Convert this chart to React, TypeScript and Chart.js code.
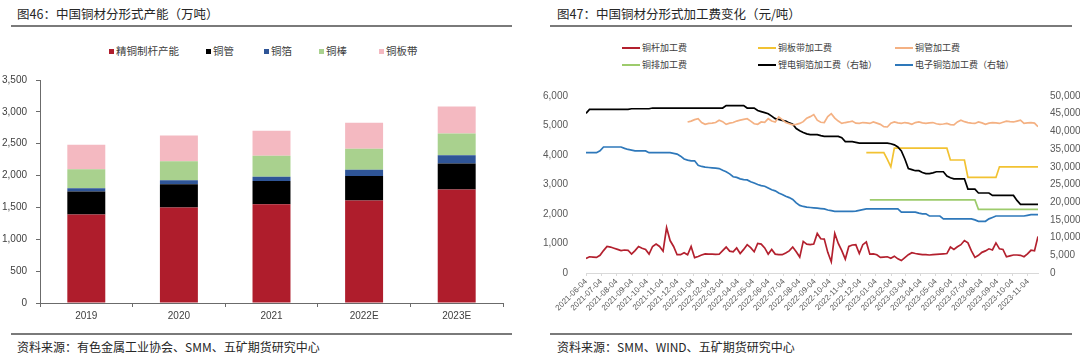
import React, { useEffect, useRef } from 'react';
import { Chart, registerables } from 'chart.js';

Chart.register(...registerables);

// ---------- Figure 46: capacity by product (10k t) ----------
const years = ['2019', '2020', '2021', '2022E', '2023E'];
const rodCapacity = [1390, 1500, 1550, 1610, 1780];
const tubeCapacity = [360, 365, 365, 385, 410];
const foilCapacity = [50, 60, 65, 95, 130];
const barCapacity = [300, 300, 330, 330, 340];
const stripCapacity = [385, 405, 395, 410, 425];
const capacityNames = ['精铜制杆产能', '铜管', '铜箔', '铜棒', '铜板带'];
const capacityColors = ['#AF1D2C', '#000000', '#2F5597', '#A9D18E', '#F4B9C1'];
const capacityTicks = [0, 500, 1000, 1500, 2000, 2500, 3000, 3500];

// ---------- Figure 47: processing fees (yuan/t), weekly from weekStart ----------
const weekStart = '2021-06-04';
const monthTickLabels = [
  '2021-06-04', '2021-07-04', '2021-08-04', '2021-09-04', '2021-10-04', '2021-11-04',
  '2021-12-04', '2022-01-04', '2022-02-04', '2022-03-04', '2022-04-04', '2022-05-04',
  '2022-06-04', '2022-07-04', '2022-08-04', '2022-09-04', '2022-10-04', '2022-11-04',
  '2022-12-04', '2023-01-04', '2023-02-04', '2023-03-04', '2023-04-04', '2023-05-04',
  '2023-06-04', '2023-07-04', '2023-08-04', '2023-09-04', '2023-10-04', '2023-11-04',
];
const leftTicks = [0, 1000, 2000, 3000, 4000, 5000, 6000];
const rightTicks = [0, 5000, 10000, 15000, 20000, 25000, 30000, 35000, 40000, 45000, 50000];

// 铜杆加工费 (weeks 0..129)
const rodFee = [
  490, 550, 540, 530, 600, 760, 900, 880, 840, 800,
  760, 780, 770, 640, 760, 900, 840, 800, 640, 900,
  980, 900, 740, 1540, 1100, 900, 620, 620, 690, 620,
  900, 520, 560, 610, 650, 640, 640, 630, 635, 760,
  880, 740, 720, 850, 660, 800, 960, 860, 720, 1000,
  980, 850, 640, 800, 640, 620, 620, 680, 750, 880,
  720, 540, 1070, 980, 960, 980, 1340, 1160, 1150, 700,
  380, 1340, 1000, 760, 470, 900, 950, 960, 660, 960,
  1050, 640, 650, 620, 530, 540, 550, 500, 570, 480,
  420, 520, 620, 690, 660, 640, 620, 620, 610, 620,
  630, 640, 650, 660, 880, 800, 890, 960, 1100, 1020,
  750, 530, 600, 700, 750, 820, 780, 1020, 820, 800,
  550, 580, 610, 610, 600, 550, 650, 770, 750, 1240,
];
// 铜管加工费 (weeks 29..129)
const tubeFeeStart = 29;
const tubeFee = [
  5120, 5150, 5200, 5230, 5100, 5040, 5070, 5080, 5100, 5180,
  5130, 5040, 5080, 5100, 5150, 5180, 5210, 5230, 5150, 5060,
  5040, 5120, 5110, 5230, 5150, 5120, 5290, 5200, 5100, 5060,
  5020, 5040, 5070, 5130, 5250, 5300, 5370, 5180, 5110, 5100,
  5300, 5400, 5250, 5150, 5070, 5100, 5120, 5150, 5080, 5070,
  5100, 5090, 5070, 5120, 5080, 5040, 4960, 4950, 5080, 5120,
  5090, 5070, 5100, 5080, 5040, 5100, 5120, 5090, 5070, 5090,
  5100, 5060, 5040, 5050, 5070, 5030, 5020, 5120, 5180, 5130,
  5100, 5080, 5070, 5120, 5090, 5040, 5080, 5100, 5090, 5070,
  5110, 5150, 5130, 5120, 5150, 5180, 5070, 5090, 5100, 5080,
  4960,
];
// 铜板带加工费 (weeks 80..129)
const stripFeeStart = 80;
const stripFee = [
  4080, 4080, 4080, 4080, 4080, 4080, 3850, 3600, 4230, 4230,
  4230, 4230, 4230, 4230, 4230, 4230, 4230, 4230, 4230, 4230,
  4230, 4230, 4230, 4230, 3830, 3830, 3830, 3830, 3830, 3240,
  3240, 3240, 3240, 3240, 3240, 3240, 3240, 3240, 3600, 3600,
  3600, 3600, 3600, 3600, 3600, 3600, 3600, 3600, 3600, 3600,
];
// 铜排加工费 (weeks 81..129)
const busbarFeeStart = 81;
const busbarFee = [
  2480, 2480, 2480, 2480, 2480, 2480, 2480, 2480, 2480, 2480,
  2480, 2480, 2480, 2480, 2480, 2480, 2480, 2480, 2480, 2480,
  2480, 2480, 2480, 2480, 2480, 2480, 2480, 2480, 2480, 2480,
  2480, 2160, 2160, 2160, 2160, 2160, 2160, 2160, 2160, 2160,
  2160, 2160, 2160, 2160, 2160, 2160, 2160, 2160, 2160,
];
// 锂电铜箔加工费 (right axis, weeks 0..129)
const liFoilFee = [
  45100, 46200, 46200, 46200, 46200, 46200, 46200, 46200, 46200, 46200,
  46200, 46200, 46200, 46400, 46400, 46400, 46400, 46400, 46400, 46600,
  46600, 46600, 46600, 46600, 46600, 46600, 46600, 46600, 46600, 46600,
  46600, 46600, 46600, 46600, 46600, 46600, 46600, 46600, 46600, 46600,
  47300, 47300, 47300, 47300, 47300, 47300, 46600, 46600, 46600, 45900,
  45600, 45300, 45000, 44300, 43600, 43400, 43100, 42900, 42400, 42000,
  40800, 40200, 39700, 39300, 39100, 39100, 39100, 38800, 38600, 38600,
  38600, 38600, 38600, 38200, 37100, 37100, 37100, 36900, 36700, 36700,
  36700, 36700, 36700, 36700, 36700, 36700, 36700, 36500, 36200, 35600,
  34500, 32200, 29500, 29200, 28900, 28900, 28400, 28100, 28100, 28300,
  28600, 28600, 28600, 27400, 26900, 26600, 26600, 26600, 26600, 23700,
  23700, 23700, 22600, 22600, 22600, 22600, 21900, 21900, 21900, 21900,
  21900, 21900, 21900, 20500, 19400, 19400, 19400, 19400, 19400, 19400,
];
// 电子铜箔加工费 (right axis, weeks 0..129)
const elecFoilFee = [
  34000, 34000, 34000, 34000, 34500, 35600, 35600, 35600, 35600, 35600,
  35600, 35200, 34900, 34700, 34500, 34500, 34500, 34500, 34000, 34000,
  34000, 34000, 34000, 34000, 34000, 33800, 33600, 33000, 32200, 31900,
  31700, 31700, 30400, 30100, 29900, 29800, 29700, 29600, 29500, 29000,
  28600, 28000, 27200, 27000, 26600, 26400, 26300, 25800, 25400, 25000,
  24700, 24500, 24000, 23500, 23200, 22600, 22200, 21700, 21300, 20800,
  19800, 19100, 18800, 18600, 18500, 18400, 18300, 18200, 18100, 17800,
  17600, 17400, 17400, 17400, 17400, 17400, 17400, 17500, 17700, 17900,
  18100, 18100, 18100, 18100, 18100, 18100, 18100, 18100, 18100, 18100,
  17200, 17200, 17200, 17200, 17200, 16900, 16700, 16700, 16100, 16100,
  16100, 16100, 15300, 15300, 15300, 15300, 15300, 15300, 15300, 15300,
  15300, 15000, 14600, 14600, 14600, 15300, 15700, 16100, 16100, 16100,
  16100, 16100, 16100, 16100, 16100, 16100, 16300, 16500, 16500, 16500,
];

const feeNames = ['铜杆加工费', '铜板带加工费', '铜管加工费', '铜排加工费', '锂电铜箔加工费（右轴）', '电子铜箔加工费（右轴）'];
const feeColors = ['#B3202E', '#F2C232', '#F4B183', '#9DCB6C', '#000000', '#2E78BA'];

const DAY = 86400000;
const dayOf = (label: string) => Math.round((Date.parse(label) - Date.parse(weekStart)) / DAY);
const toPoints = (values: number[], start: number) => values.map((v, i) => ({ x: (start + i) * 7, y: v }));
const fmt = (v: number | string) => Number(v).toLocaleString('en-US');

const CJK = '"Noto Sans CJK SC", "Noto Sans", sans-serif';
const NUM = '"Liberation Sans", Arial, sans-serif';

function CapacityChart() {
  const ref = useRef<HTMLCanvasElement>(null);
  useEffect(() => {
    const series = [rodCapacity, tubeCapacity, foilCapacity, barCapacity, stripCapacity];
    const chart = new Chart(ref.current as HTMLCanvasElement, {
      type: 'bar',
      data: {
        labels: years,
        datasets: series.map((d, i) => ({
          label: capacityNames[i],
          data: d,
          backgroundColor: capacityColors[i],
          borderWidth: 0,
          categoryPercentage: 1,
          barPercentage: 0.41,
        })),
      },
      options: {
        animation: false,
        responsive: false,
        maintainAspectRatio: false,
        layout: { padding: { top: 11, right: 17, left: 0, bottom: 0 } },
        plugins: { legend: { display: false }, tooltip: { enabled: false } },
        scales: {
          x: {
            stacked: true,
            grid: { display: true, drawOnChartArea: false, tickLength: 4, color: '#6b6b6b', offset: true },
            border: { display: true, color: '#6b6b6b', width: 1 },
            ticks: { color: '#404040', font: { family: NUM, size: 10 }, padding: 3 },
            afterFit: (s: any) => { s.height = 27; },
          },
          y: {
            stacked: true,
            min: 0,
            max: 3500,
            afterBuildTicks: (s: any) => { s.ticks = capacityTicks.map((v) => ({ value: v })); },
            ticks: { color: '#404040', font: { family: NUM, size: 10 }, padding: 9, callback: (v: any) => fmt(v) },
            grid: { display: true, drawOnChartArea: false, tickLength: 4, color: '#6b6b6b' },
            border: { display: true, color: '#6b6b6b', width: 1 },
            afterFit: (s: any) => { s.width = 40; },
          },
        },
      },
    });
    return () => chart.destroy();
  }, []);
  return (
    <canvas
      ref={ref}
      width={520}
      height={265}
      style={{ position: 'absolute', left: 0, top: 65, width: 520, height: 265 }}
    />
  );
}

function FeeChart() {
  const ref = useRef<HTMLCanvasElement>(null);
  useEffect(() => {
    const tickDays = monthTickLabels.map(dayOf);
    const lastDay = (rodFee.length - 1) * 7;
    const mk = (i: number, data: { x: number; y: number }[], axis: string) => ({
      label: feeNames[i],
      data,
      borderColor: feeColors[i],
      backgroundColor: feeColors[i],
      borderWidth: 1.7,
      pointRadius: 0,
      tension: 0,
      yAxisID: axis,
    });
    const chart = new Chart(ref.current as HTMLCanvasElement, {
      type: 'line',
      data: {
        datasets: [
          mk(2, toPoints(tubeFee, tubeFeeStart), 'y'),
          mk(4, toPoints(liFoilFee, 0), 'y1'),
          mk(1, toPoints(stripFee, stripFeeStart), 'y'),
          mk(3, toPoints(busbarFee, busbarFeeStart), 'y'),
          mk(5, toPoints(elecFoilFee, 0), 'y1'),
          mk(0, toPoints(rodFee, 0), 'y'),
        ],
      },
      options: {
        animation: false,
        responsive: false,
        maintainAspectRatio: false,
        layout: { padding: { top: 10, right: 0, left: 0, bottom: 0 } },
        plugins: { legend: { display: false }, tooltip: { enabled: false } },
        scales: {
          x: {
            type: 'linear',
            min: 0,
            max: lastDay,
            afterBuildTicks: (s: any) => { s.ticks = tickDays.map((v) => ({ value: v })); },
            ticks: {
              autoSkip: false,
              maxRotation: 45,
              minRotation: 45,
              color: '#595959',
              font: { family: NUM, size: 8 },
              padding: 1,
              callback: (_v: any, i: number) => monthTickLabels[i],
            },
            grid: { display: true, drawOnChartArea: false, tickLength: 3, color: '#d9d9d9' },
            border: { display: true, color: '#d9d9d9', width: 1 },
            afterFit: (s: any) => { s.height = 57; },
          },
          y: {
            position: 'left',
            min: 0,
            max: 6000,
            afterBuildTicks: (s: any) => { s.ticks = leftTicks.map((v) => ({ value: v })); },
            ticks: { color: '#595959', font: { family: NUM, size: 10 }, padding: 10, callback: (v: any) => fmt(v) },
            grid: { display: false },
            border: { display: false },
            afterFit: (s: any) => { s.width = 46; },
          },
          y1: {
            position: 'right',
            min: 0,
            max: 50000,
            afterBuildTicks: (s: any) => { s.ticks = rightTicks.map((v) => ({ value: v })); },
            ticks: { color: '#595959', font: { family: NUM, size: 10 }, padding: 4, callback: (v: any) => fmt(v) },
            grid: { display: false },
            border: { display: false },
            afterFit: (s: any) => { s.width = 42; },
          },
        },
      },
    });
    return () => chart.destroy();
  }, []);
  return (
    <canvas
      ref={ref}
      width={540}
      height={250}
      style={{ position: 'absolute', left: 540, top: 80, width: 540, height: 250 }}
    />
  );
}

const abs = (s: React.CSSProperties): React.CSSProperties => ({ position: 'absolute', ...s });

const leftLegendX = [109, 206, 264, 319, 379];
const rightLegendPos = [
  { x: 622, y: 48 }, { x: 758, y: 48 }, { x: 895, y: 48 },
  { x: 622, y: 65 }, { x: 758, y: 65 }, { x: 895, y: 65 },
];

export default function App() {
  return (
    <div style={abs({ left: 0, top: 0, width: 1080, height: 358, background: '#ffffff', fontFamily: CJK, overflow: 'hidden' })}>
      {/* Left panel */}
      <div style={abs({ left: 17, top: 5, fontSize: 12.5, lineHeight: '18px', color: '#262626', whiteSpace: 'nowrap' })}>
        图46：中国铜材分形式产能（万吨）
      </div>
      <div style={abs({ left: 11, top: 25, width: 501, height: 2, background: '#7a7a7a' })} />
      {capacityNames.map((n, i) => (
        <div key={n} style={abs({ left: leftLegendX[i], top: 44, height: 14, display: 'flex', alignItems: 'center', whiteSpace: 'nowrap' })}>
          <span style={{ display: 'inline-block', width: 5, height: 5, background: capacityColors[i], marginRight: 2 }} />
          <span style={{ fontSize: 10.5, color: '#404040', lineHeight: '14px' }}>{n}</span>
        </div>
      ))}
      <CapacityChart />
      <div style={abs({ left: 11, top: 333, width: 501, height: 2, background: '#7a7a7a' })} />
      <div style={abs({ left: 17, top: 339, fontSize: 12, lineHeight: '16px', color: '#262626', whiteSpace: 'nowrap' })}>
        资料来源：有色金属工业协会、SMM、五矿期货研究中心
      </div>

      {/* Right panel */}
      <div style={abs({ left: 557, top: 5, fontSize: 12.5, lineHeight: '18px', color: '#262626', whiteSpace: 'nowrap' })}>
        图47：中国铜材分形式加工费变化（元/吨）
      </div>
      <div style={abs({ left: 550, top: 25, width: 522, height: 2, background: '#7a7a7a' })} />
      {feeNames.map((n, i) => (
        <div key={n} style={abs({ left: rightLegendPos[i].x, top: rightLegendPos[i].y - 7, height: 14, display: 'flex', alignItems: 'center', whiteSpace: 'nowrap' })}>
          <span style={{ display: 'inline-block', width: 18, height: 2, background: feeColors[i], marginRight: 2 }} />
          <span style={{ fontSize: 9, color: '#404040', lineHeight: '14px' }}>{n}</span>
        </div>
      ))}
      <FeeChart />
      <div style={abs({ left: 550, top: 333, width: 522, height: 2, background: '#7a7a7a' })} />
      <div style={abs({ left: 557, top: 339, fontSize: 12, lineHeight: '16px', color: '#262626', whiteSpace: 'nowrap' })}>
        资料来源：SMM、WIND、五矿期货研究中心
      </div>
    </div>
  );
}
